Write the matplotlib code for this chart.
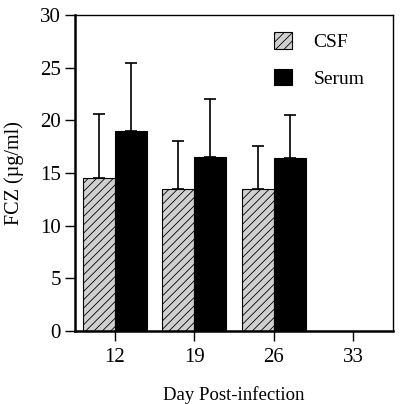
import numpy as np
import matplotlib.pyplot as plt

plt.rcParams['font.family'] = ['Liberation Serif', 'DejaVu Serif']
plt.rcParams['hatch.linewidth'] = 0.6

days = ['12', '19', '26', '33']
csf = [14.5, 13.5, 13.5]
csf_err = [6.1, 4.5, 4.1]
serum = [19.0, 16.5, 16.4]
serum_err = [6.4, 5.5, 4.1]

fig = plt.figure(figsize=(4.0, 4.04), dpi=100)
ax = fig.add_axes([0.1875, 0.181, 0.795, 0.782])

x = np.arange(len(csf))
w = 0.4
ax.bar(x - w / 2, csf, w, color='#d0d0d0', edgecolor='black', hatch='////',
       linewidth=0.8, label='CSF')
ax.bar(x + w / 2, serum, w, color='black', edgecolor='black', linewidth=0.8,
       label='Serum')
ax.errorbar(x - w / 2, csf, yerr=[np.zeros(3), csf_err], fmt='none',
            ecolor='black', elinewidth=1.2, capsize=4, capthick=1.2)
ax.errorbar(x + w / 2, serum, yerr=[np.zeros(3), serum_err], fmt='none',
            ecolor='black', elinewidth=1.2, capsize=4, capthick=1.2)

ax.set_xlim(-0.5, 3.5)
ax.set_ylim(0, 30)
ax.set_xticks(range(len(days)))
ax.set_xticklabels(days)
ax.set_yticks(range(0, 31, 5))
ax.tick_params(axis='both', direction='out', length=7, width=1, labelsize=15,
               pad=3)
ax.tick_params(axis='x', pad=5)
for side in ['left', 'bottom']:
    ax.spines[side].set_linewidth(1.8)
for side in ['top', 'right']:
    ax.spines[side].set_linewidth(1.0)

ax.set_ylabel('FCZ (µg/ml)', fontsize=14.5, labelpad=12)
ax.set_xlabel('Day Post-infection', fontsize=13.5, labelpad=14)

ax.legend(loc='upper right', bbox_to_anchor=(0.965, 1.0), frameon=False,
          fontsize=14, handlelength=0.9, handleheight=0.9, labelspacing=0.9,
          handletextpad=1.1)

fig.savefig('out.png', dpi=100)
